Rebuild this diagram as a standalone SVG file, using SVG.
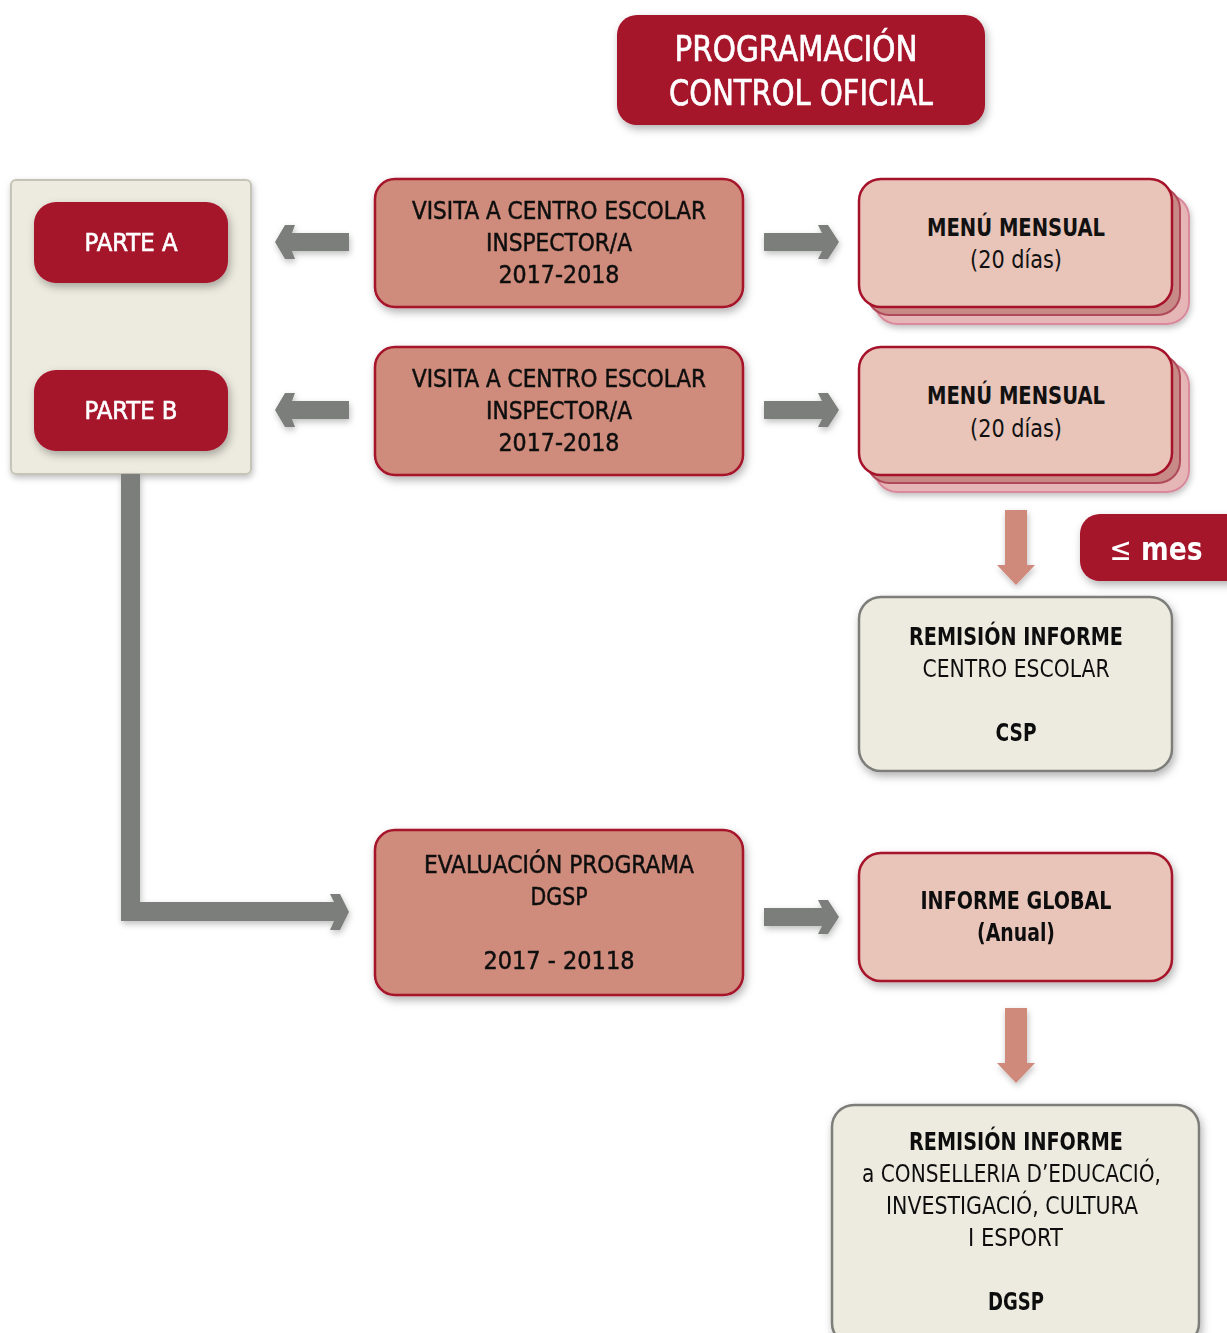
<svg xmlns="http://www.w3.org/2000/svg" width="1227" height="1333" viewBox="0 0 1227 1333">
<defs>
<filter id="sh" x="-10%" y="-10%" width="125%" height="130%">
<feDropShadow dx="2" dy="4" stdDeviation="4" flood-color="#000" flood-opacity="0.3"/>
</filter>
<filter id="sh2" x="-10%" y="-20%" width="125%" height="150%">
<feDropShadow dx="1" dy="3" stdDeviation="3" flood-color="#000" flood-opacity="0.25"/>
</filter>
</defs>
<style>
text{font-family:"DejaVu Sans Condensed","DejaVu Sans",sans-serif;text-anchor:middle;font-stretch:condensed}
.w{fill:#fff}
.k{fill:#111}
.m{stroke:#111;stroke-width:0.5}
.mw{stroke:#fff;stroke-width:0.6}
.b{font-weight:bold}
.red{fill:#a6122a}
.visit{fill:#cf8b7b;stroke:#a6122a;stroke-width:2.5}
.menu{fill:#e8c4b9;stroke:#a6122a;stroke-width:2.5}
.cream{fill:#edebdf;stroke:#7d7d7a;stroke-width:2.5}
.ga{fill:#7c7e7b}
.sa{fill:#d08a7c}
</style>

<g id="title" filter="url(#sh)">
<rect class="red" x="617" y="15" width="368" height="110" rx="20"/>
<text class="w mw" x="796" y="61" font-size="35" textLength="243" lengthAdjust="spacingAndGlyphs">PROGRAMACIÓN</text>
<text class="w mw" x="801" y="105" font-size="35" textLength="264" lengthAdjust="spacingAndGlyphs">CONTROL OFICIAL</text>
</g>

<g id="panel">
<rect x="11" y="180" width="240" height="294" rx="5" fill="#edebdf" stroke="#c6c4b6" stroke-width="2" filter="url(#sh2)"/>
</g>
<g id="parteA" filter="url(#sh)">
<rect class="red" x="34" y="202" width="194" height="81" rx="22"/>
<text class="w mw" x="131" y="251" font-size="24" textLength="93" lengthAdjust="spacingAndGlyphs">PARTE A</text>
</g>
<g id="parteB" filter="url(#sh)">
<rect class="red" x="34" y="370" width="194" height="81" rx="22"/>
<text class="w mw" x="131" y="419" font-size="24" textLength="93" lengthAdjust="spacingAndGlyphs">PARTE B</text>
</g>

<g id="visita1" filter="url(#sh)">
<rect class="visit" x="375" y="179" width="368" height="128" rx="20"/>
<text class="k m" x="559" y="219" font-size="25" textLength="294" lengthAdjust="spacingAndGlyphs">VISITA A CENTRO ESCOLAR</text>
<text class="k m" x="559" y="251" font-size="25" textLength="146" lengthAdjust="spacingAndGlyphs">INSPECTOR/A</text>
<text class="k m" x="559" y="283" font-size="25" textLength="121" lengthAdjust="spacingAndGlyphs">2017-2018</text>
</g>
<g id="visita2" filter="url(#sh)">
<rect class="visit" x="375" y="347" width="368" height="128" rx="20"/>
<text class="k m" x="559" y="387" font-size="25" textLength="294" lengthAdjust="spacingAndGlyphs">VISITA A CENTRO ESCOLAR</text>
<text class="k m" x="559" y="419" font-size="25" textLength="146" lengthAdjust="spacingAndGlyphs">INSPECTOR/A</text>
<text class="k m" x="559" y="451" font-size="25" textLength="121" lengthAdjust="spacingAndGlyphs">2017-2018</text>
</g>

<g id="menu1">
<rect x="875" y="195" width="314" height="129" rx="22" fill="#e6b6b6" stroke="#d88a9c" stroke-width="2" filter="url(#sh2)"/>
<rect x="867" y="187" width="313" height="128" rx="22" fill="#c88a86" stroke="#b04a5a" stroke-width="2"/>
<rect class="menu" x="859" y="179" width="313" height="128" rx="22"/>
<text class="k b" x="1016" y="236" font-size="24" textLength="178" lengthAdjust="spacingAndGlyphs">MENÚ MENSUAL</text>
<text class="k" x="1016" y="268" font-size="24" textLength="92" lengthAdjust="spacingAndGlyphs">(20 días)</text>
</g>
<g id="menu2">
<rect x="875" y="363" width="314" height="129" rx="22" fill="#e6b6b6" stroke="#d88a9c" stroke-width="2" filter="url(#sh2)"/>
<rect x="867" y="355" width="313" height="128" rx="22" fill="#c88a86" stroke="#b04a5a" stroke-width="2"/>
<rect class="menu" x="859" y="347" width="313" height="128" rx="22"/>
<text class="k b" x="1016" y="404" font-size="24" textLength="178" lengthAdjust="spacingAndGlyphs">MENÚ MENSUAL</text>
<text class="k" x="1016" y="437" font-size="24" textLength="92" lengthAdjust="spacingAndGlyphs">(20 días)</text>
</g>

<g id="mes" filter="url(#sh)">
<rect class="red" x="1080" y="514" width="170" height="67" rx="20"/>
<text class="w" x="1156" y="560" font-size="32" textLength="93" lengthAdjust="spacingAndGlyphs"><tspan font-weight="normal">≤</tspan><tspan font-weight="bold"> mes</tspan></text>
</g>

<g id="remision1" filter="url(#sh)">
<rect class="cream" x="859" y="597" width="313" height="174" rx="22"/>
<text class="k b" x="1016" y="645" font-size="24" textLength="214" lengthAdjust="spacingAndGlyphs">REMISIÓN INFORME</text>
<text class="k" x="1016" y="677" font-size="24" textLength="187" lengthAdjust="spacingAndGlyphs">CENTRO ESCOLAR</text>
<text class="k b" x="1016" y="741" font-size="24" textLength="41" lengthAdjust="spacingAndGlyphs">CSP</text>
</g>

<g id="evaluacion" filter="url(#sh)">
<rect class="visit" x="375" y="830" width="368" height="165" rx="20"/>
<text class="k m" x="559" y="873" font-size="25" textLength="270" lengthAdjust="spacingAndGlyphs">EVALUACIÓN PROGRAMA</text>
<text class="k m" x="559" y="905" font-size="25" textLength="57" lengthAdjust="spacingAndGlyphs">DGSP</text>
<text class="k m" x="559" y="969" font-size="25" textLength="151" lengthAdjust="spacingAndGlyphs">2017 - 20118</text>
</g>

<g id="informe" filter="url(#sh)">
<rect class="menu" x="859" y="853" width="313" height="128" rx="22"/>
<text class="k b" x="1016" y="909" font-size="24" textLength="191" lengthAdjust="spacingAndGlyphs">INFORME GLOBAL</text>
<text class="k b" x="1016" y="941" font-size="24" textLength="78" lengthAdjust="spacingAndGlyphs">(Anual)</text>
</g>

<g id="remision2" filter="url(#sh)">
<rect class="cream" x="832" y="1105" width="367" height="240" rx="22"/>
<text class="k b" x="1016" y="1150" font-size="24" textLength="214" lengthAdjust="spacingAndGlyphs">REMISIÓN INFORME</text>
<text class="k" x="1011.5" y="1182" font-size="24" textLength="299" lengthAdjust="spacingAndGlyphs">a CONSELLERIA D’EDUCACIÓ,</text>
<text class="k" x="1012" y="1214" font-size="24" textLength="252" lengthAdjust="spacingAndGlyphs">INVESTIGACIÓ, CULTURA</text>
<text class="k" x="1015.5" y="1246" font-size="24" textLength="95" lengthAdjust="spacingAndGlyphs">I ESPORT</text>
<text class="k b" x="1016" y="1310" font-size="24" textLength="56" lengthAdjust="spacingAndGlyphs">DGSP</text>
</g>

<g id="connectors" filter="url(#sh2)">
<polygon class="ga" points="349,233 292,233 295,225 285,225 275,242 285,259 295,259 292,251 349,251"/>
<polygon class="ga" points="349,401 292,401 295,393 285,393 275,410 285,427 295,427 292,419 349,419"/>
<polygon class="ga" points="764,233 822,233 818,225 828,225 839,242 828,259 818,259 822,251 764,251"/>
<polygon class="ga" points="764,401 822,401 818,393 828,393 839,410 828,427 818,427 822,419 764,419"/>
<polygon class="ga" points="764,908 822,908 818,900 828,900 839,917 828,934 818,934 822,926 764,926"/>
<polygon class="ga" points="121,474 140,474 140,902 334,902 330,894 340,894 349,912 340,930 330,930 334,921 121,921"/>
<polygon class="sa" points="1005,510 1027,510 1027,565 1035,565 1016,585 997,565 1005,565"/>
<polygon class="sa" points="1005,1008 1027,1008 1027,1063 1035,1063 1016,1083 997,1063 1005,1063"/>
</g>
</svg>
